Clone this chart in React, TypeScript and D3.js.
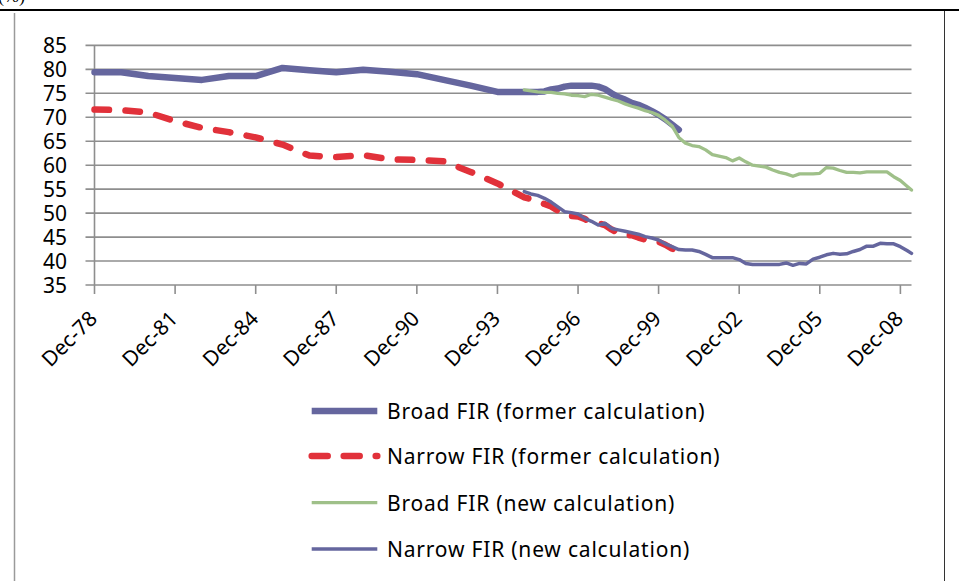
import * as d3 from 'd3'

const WIDTH = 959
const HEIGHT = 581
const PLOT = { left: 94.5, right: 911.5, top: 45.4, bottom: 285 }

// Broad FIR (former calculation): annual to Dec-94, quarterly after
const broadOldDates = [
  '1978-12', '1979-12', '1980-12', '1981-12', '1982-12', '1983-12', '1984-12', '1985-12',
  '1986-12', '1987-12', '1988-12', '1989-12', '1990-12', '1991-12', '1992-12', '1993-12',
  '1994-12', '1995-03', '1995-06', '1995-09', '1995-12', '1996-03', '1996-06', '1996-09',
  '1996-12', '1997-03', '1997-06', '1997-09', '1997-12', '1998-03', '1998-06', '1998-09',
  '1998-12', '1999-03', '1999-06', '1999-09', '1999-12', '2000-03', '2000-06', '2000-09'
]
const broadOldValues = [
  79.4, 79.4, 78.6, 78.2, 77.8, 78.6, 78.6, 80.3,
  79.8, 79.4, 79.9, 79.5, 79.0, 77.8, 76.6, 75.3,
  75.3, 75.3, 75.3, 75.4, 75.8, 76.0, 76.4, 76.6,
  76.6, 76.6, 76.6, 76.4, 75.9, 75.0, 74.2, 73.7,
  73.0, 72.6, 72.0, 71.3, 70.5, 69.6, 68.5, 67.4
]

// Narrow FIR (former calculation)
const narrowOldDates = broadOldDates
const narrowOldValues = [
  71.6, 71.5, 71.0, 69.2, 67.8, 66.9, 65.8, 64.3,
  62.0, 61.7, 62.1, 61.2, 61.1, 60.8, 58.6, 56.2,
  53.3, 52.9, 52.4, 51.9, 51.4, 50.5, 49.7, 49.4,
  49.3, 48.8, 48.0, 47.9, 47.5, 46.6, 45.8, 45.4,
  45.4, 44.9, 44.5, 44.2, 44.0, 43.4, 42.6, 41.9
]

// new calculation, quarterly Dec-94 .. May-09
const newDates = [
  '1994-12', '1995-03', '1995-06', '1995-09', '1995-12', '1996-03', '1996-06', '1996-09',
  '1996-12', '1997-03', '1997-06', '1997-09', '1997-12', '1998-03', '1998-06', '1998-09',
  '1998-12', '1999-03', '1999-06', '1999-09', '1999-12', '2000-03', '2000-06', '2000-09',
  '2000-12', '2001-03', '2001-06', '2001-09', '2001-12', '2002-03', '2002-06', '2002-09',
  '2002-12', '2003-03', '2003-06', '2003-09', '2003-12', '2004-03', '2004-06', '2004-09',
  '2004-12', '2005-03', '2005-06', '2005-09', '2005-12', '2006-03', '2006-06', '2006-09',
  '2006-12', '2007-03', '2007-06', '2007-09', '2007-12', '2008-03', '2008-06', '2008-09',
  '2008-12', '2009-03', '2009-05'
]
const broadNewValues = [
  75.7, 75.5, 75.3, 75.2, 75.2, 75.0, 74.9, 74.6,
  74.5, 74.3, 74.8, 74.6, 74.2, 73.8, 73.4, 72.8,
  72.3, 71.9, 71.4, 71.0, 70.4, 69.4, 68.2, 65.8,
  64.6, 64.1, 63.9, 63.2, 62.2, 61.9, 61.6, 60.9,
  61.5, 60.7, 60.0, 59.8, 59.6, 59.0, 58.5, 58.2,
  57.7, 58.2, 58.2, 58.2, 58.3, 59.5, 59.4, 58.9,
  58.5, 58.5, 58.4, 58.6, 58.6, 58.6, 58.6, 57.6,
  56.8, 55.6, 54.8
]
const narrowNewValues = [
  54.5, 54.0, 53.7, 53.1, 52.3, 51.3, 50.3, 50.1,
  49.8, 48.9, 48.3, 47.5, 47.9, 46.8, 46.5, 46.2,
  45.9, 45.6, 45.1, 44.8, 44.4, 43.6, 43.0, 42.4,
  42.3, 42.3, 42.0, 41.4, 40.7, 40.7, 40.7, 40.7,
  40.3, 39.5, 39.3, 39.3, 39.3, 39.3, 39.3, 39.6,
  39.1, 39.5, 39.4, 40.4, 40.8, 41.3, 41.6, 41.4,
  41.5, 42.0, 42.4, 43.1, 43.1, 43.7, 43.6, 43.6,
  43.0, 42.2, 41.6
]

const yTicks = [35, 40, 45, 50, 55, 60, 65, 70, 75, 80, 85]
const xTickDates = ['1978-12', '1981-12', '1984-12', '1987-12', '1990-12', '1993-12', '1996-12', '1999-12', '2002-12', '2005-12', '2008-12']
const xDomain = ['1978-12', '2009-05']

const seriesNames = [
  'Broad FIR (former calculation)',
  'Narrow FIR (former calculation)',
  'Broad FIR (new calculation)',
  'Narrow FIR (new calculation)'
]

const PURPLE = '#65669e'
const RED = '#e1313a'
const GREEN = '#9fc089'

const FONT = "'Noto Sans', 'DejaVu Sans', sans-serif"

export default function App() {
  const parse = d3.timeParse('%Y-%m')
  const fmt = d3.timeFormat('%b-%y')

  const x = d3.scaleTime()
    .domain(xDomain.map(d => parse(d) as Date))
    .range([PLOT.left, PLOT.right])

  const y = d3.scaleLinear()
    .domain([35, 85])
    .range([PLOT.bottom, PLOT.top])

  const line = d3.line<[Date, number]>()
    .x(d => x(d[0]))
    .y(d => y(d[1]))

  const zip = (dates: string[], values: number[]) =>
    dates.map((d, i) => [parse(d) as Date, values[i]] as [Date, number])

  const series = [
    { name: seriesNames[0], pts: zip(broadOldDates, broadOldValues), color: PURPLE, width: 6.5, dash: undefined, legendDash: undefined },
    { name: seriesNames[1], pts: zip(narrowOldDates, narrowOldValues), color: RED, width: 6.5, dash: '14.5,16.5', legendDash: '16,16' },
    { name: seriesNames[2], pts: zip(newDates, broadNewValues), color: GREEN, width: 3.3, dash: undefined, legendDash: undefined },
    { name: seriesNames[3], pts: zip(newDates, narrowNewValues), color: PURPLE, width: 3.5, dash: undefined, legendDash: undefined }
  ]

  const legendY = [411, 456, 502.7, 549]

  return (
    <svg
      width={WIDTH}
      height={HEIGHT}
      style={{ position: 'absolute', left: 0, top: 0, background: '#fff' }}
      fontFamily={FONT}
    >
      {/* cropped unit label and frame */}
      <text x={-2} y={2} fontFamily="'Liberation Serif', serif" fontSize={18} fill="#000">(%)</text>
      <line x1={0} x2={WIDTH} y1={10} y2={10} stroke="#000" strokeWidth={2} />
      <line x1={14.5} x2={14.5} y1={13} y2={HEIGHT} stroke="#9a9a9a" strokeWidth={1.5} />
      <line x1={944.5} x2={944.5} y1={11} y2={HEIGHT} stroke="#333" strokeWidth={1} />

      {/* grid */}
      {yTicks.map(t => (
        <g key={t}>
          <line x1={PLOT.left - 9} x2={PLOT.right} y1={y(t)} y2={y(t)} stroke="#8e8e8e" strokeWidth={1.6} />
          <text x={67} y={y(t)} textAnchor="end" dominantBaseline="central" fontSize={21} fill="#000">{t}</text>
        </g>
      ))}

      {/* axes */}
      <line x1={PLOT.left} x2={PLOT.left} y1={PLOT.top} y2={PLOT.bottom} stroke="#8e8e8e" strokeWidth={1.6} />
      {xTickDates.map(d => {
        const tx = x(parse(d) as Date)
        return (
          <g key={d}>
            <line x1={tx} x2={tx} y1={PLOT.bottom} y2={PLOT.bottom + 9} stroke="#8e8e8e" strokeWidth={1.6} />
            <text
              transform={`translate(${tx + 4},${PLOT.bottom + 35}) rotate(-45)`}
              textAnchor="end"
              fontSize={21}
              fill="#000"
            >
              {fmt(parse(d) as Date)}
            </text>
          </g>
        )
      })}

      {/* series */}
      {series.map(s => (
        <path
          key={s.name}
          d={line(s.pts) || ''}
          fill="none"
          stroke={s.color}
          strokeWidth={s.width}
          strokeDasharray={s.dash}
          strokeLinecap="round"
          strokeLinejoin="round"
        />
      ))}

      {/* legend */}
      {series.map((s, i) => (
        <g key={s.name}>
          <line
            x1={311.7}
            x2={377.3}
            y1={legendY[i]}
            y2={legendY[i]}
            stroke={s.color}
            strokeWidth={s.width}
            strokeDasharray={s.legendDash}
            strokeLinecap={s.legendDash ? 'round' : 'butt'}
          />
          <text x={387} y={legendY[i]} dominantBaseline="central" fontSize={21} letterSpacing={0.8} fill="#000">
            {s.name}
          </text>
        </g>
      ))}
    </svg>
  )
}
